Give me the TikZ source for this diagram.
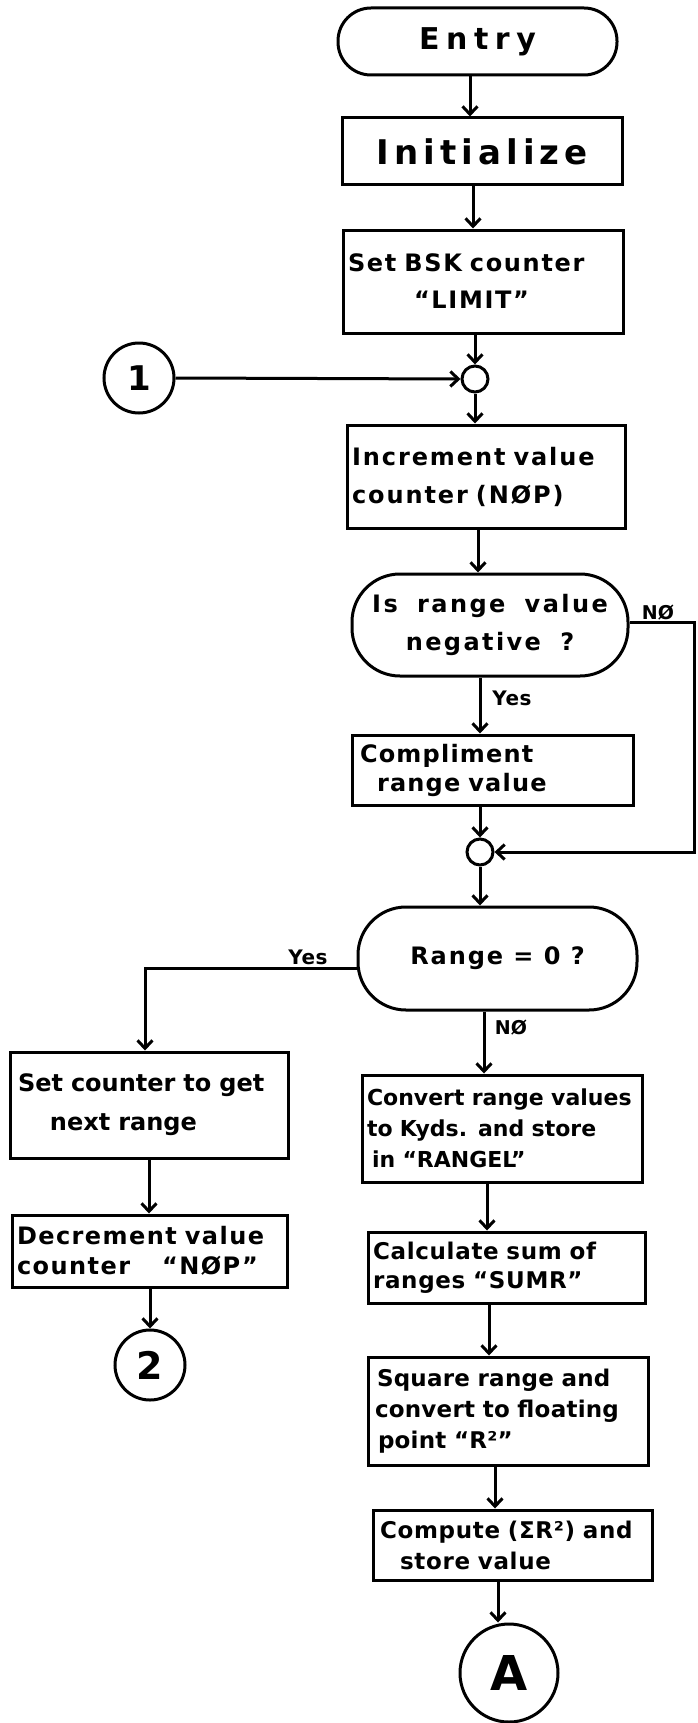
\documentclass[tikz,border=0pt]{standalone}
\usepackage{fontspec}
\setmainfont{DejaVu Sans}
\usetikzlibrary{arrows.meta}
\newcommand\tline[1]{\mbox{#1}}
\newcommand\hwf[4]{\fontsize{#1}{#2}\selectfont\bfseries\addfontfeature{LetterSpace=#3}\spaceskip=#4\fontdimen2\font\relax}
\begin{document}
\begin{tikzpicture}[x=1pt,y=-1pt,
  box/.style={draw, line width=3pt, rectangle, inner sep=0pt},
  lbox/.style={box, align=left, inner xsep=5pt},
  term/.style={draw, line width=3pt, rectangle, inner sep=0pt, align=center},
  conn/.style={draw, circle, line width=3pt, inner sep=0pt},
  junc/.style={draw, circle, line width=3pt, inner sep=0pt, minimum size=26pt},
  arr/.style={line width=3pt, -{Straight Barb[length=8pt,width=15pt,line width=3pt]}},
  lbl/.style={inner sep=1pt}
]
\useasboundingbox (0,0) rectangle (697,1723);
\fill[white] (0,0) rectangle (697,1723);

% main column
\node[term, rounded corners=33pt, minimum width=279pt, minimum height=67pt, font=\hwf{30}{36}{22}{1}] (entry) at (477.5,41.5) {Entry};
\node[box, minimum width=280pt, minimum height=67pt, font=\hwf{34}{40}{15}{1}] (init) at (482,151.5) {Initialize};
\node[lbox, minimum width=280pt, minimum height=103pt, text width=270pt, font=\hwf{24}{37}{7}{2.2}] (bsk) at (483,281.5)
  {\tline{Set BSK counter}\\ \hspace*{66pt}\tline{“LIMIT”}};
\node[junc] (j1) at (475,379) {};
\node[conn, minimum size=70pt, font=\hwf{34}{36}{0}{1}] (c1) at (139,378) {1};
\node[lbox, minimum width=278pt, minimum height=103pt, text width=268pt, font=\hwf{24}{38}{8}{1.8}] (inc) at (486,476.5)
  {\tline{Increment value}\\ \tline{counter (NØP)}};
\node[term, rounded corners=48pt, minimum width=276pt, minimum height=102pt, font=\hwf{24}{38}{10}{1.8}] (dec1) at (490,625)
  {Is range value\\ negative ?};
\node[lbox, minimum width=281pt, minimum height=70pt, text width=271pt, font=\hwf{24}{29}{5}{1.6}] (comp) at (492.5,770)
  {\hspace*{3pt}\tline{Compliment}\\ \hspace*{20pt}\tline{range value}};
\node[junc] (j2) at (480,852) {};
\node[term, rounded corners=48pt, minimum width=279pt, minimum height=103pt, font=\hwf{24}{30}{8}{1}] (dec2) at (497.5,958.5)
  {Range = 0 ?};

% left branch
\node[lbox, minimum width=278pt, minimum height=106pt, text width=268pt, font=\hwf{24}{39}{0}{1.4}] (setc) at (149,1105)
  {\hspace*{3pt}\tline{Set counter to get}\\ \hspace*{35pt}\tline{next range}};
\node[lbox, minimum width=275pt, minimum height=72pt, text width=265pt, font=\hwf{24}{30}{6}{1.4}] (decr) at (149.5,1251)
  {\tline{Decrement value}\\ \tline{counter \quad “NØP”}};
\node[conn, minimum size=70pt, font=\hwf{38}{40}{0}{1}] (c2) at (150,1365) {2};

% right column lower
\node[lbox, minimum width=280pt, minimum height=107pt, text width=270pt, font=\hwf{22}{31}{0}{1.3}] (conv) at (502,1128.5)
  {\tline{Convert range values}\\ \tline{to Kyds. and store}\\ \hspace*{5pt}\tline{in “RANGEL”}};
\node[lbox, minimum width=277pt, minimum height=71pt, text width=267pt, font=\hwf{23}{29}{3}{1.3}] (calc) at (506.5,1267.5)
  {\tline{Calculate sum of}\\ \tline{ranges “SUMR”}};
\node[lbox, minimum width=280pt, minimum height=108pt, text width=270pt, font=\hwf{23}{31}{1}{1.3}] (sq) at (508,1411)
  {\hspace*{4pt}\tline{Square range and}\\ \hspace*{2pt}\tline{convert to floating}\\ \hspace*{5pt}\tline{point “R²”}};
\node[lbox, minimum width=279pt, minimum height=70pt, text width=269pt, font=\hwf{23}{31}{3}{1.3}] (cmp) at (512.5,1545)
  {\hspace*{2pt}\tline{Compute (ΣR²) and}\\ \hspace*{22pt}\tline{store value}};
\node[conn, minimum size=98pt, font=\hwf{48}{50}{0}{1}] (A) at (509,1673) {A};

% labels
\node[lbl, font=\hwf{20}{24}{3}{1}] (yes1) at (512,698) {Yes};
\node[lbl, anchor=south, font=\hwf{19}{22}{0}{1}] (no1) at (658,621) {NØ};
\node[lbl, anchor=south, font=\hwf{20}{24}{3}{1}] (yes2) at (308,966) {Yes};
\node[lbl, font=\hwf{19}{22}{0}{1}] (no2) at (511,1028) {NØ};

% flow x coordinates
\coordinate (x1) at (470,0);
\coordinate (x2) at (473,0);
\coordinate (x3) at (478,0);
\coordinate (x4) at (480,0);
\coordinate (x5) at (484,0);
\coordinate (x6) at (487,0);
\coordinate (x7) at (489,0);
\coordinate (x8) at (495,0);
\coordinate (x9) at (498,0);
\coordinate (rx) at (694,0);
\coordinate (lx) at (145,0);

% connectors
\draw[arr] (entry.south -| x1) -- (init.north -| x1);
\draw[arr] (init.south -| x2) -- (bsk.north -| x2);
\draw[arr] (bsk.south -| j1) -- (j1.north);
\draw[arr] (c1.east) -- (j1.west);
\draw[arr] (j1.south) -- (inc.north -| j1);
\draw[arr] (inc.south -| x3) -- (dec1.north -| x3);
\draw[arr] (dec1.south -| x4) -- (comp.north -| x4);
\draw[arr] (comp.south -| j2) -- (j2.north);
\draw[arr] ([yshift=3pt]dec1.east) -- ([yshift=3pt]dec1.east -| rx) -- (rx |- j2.east) -- (j2.east);
\draw[arr] (j2.south) -- (dec2.north -| j2);
\draw[arr] ([yshift=-9.5pt]dec2.west) -| (setc.north -| lx);
\draw[arr] (setc.south) -- (decr.north -| setc.south);
\draw[arr] (decr.south -| c2) -- (c2.north);
\draw[arr] (dec2.south -| x5) -- (conv.north -| x5);
\draw[arr] (conv.south -| x6) -- (calc.north -| x6);
\draw[arr] (calc.south -| x7) -- (sq.north -| x7);
\draw[arr] (sq.south -| x8) -- (cmp.north -| x8);
\draw[arr] (cmp.south -| x9) -- (A.north -| x9);
\end{tikzpicture}
\end{document}
